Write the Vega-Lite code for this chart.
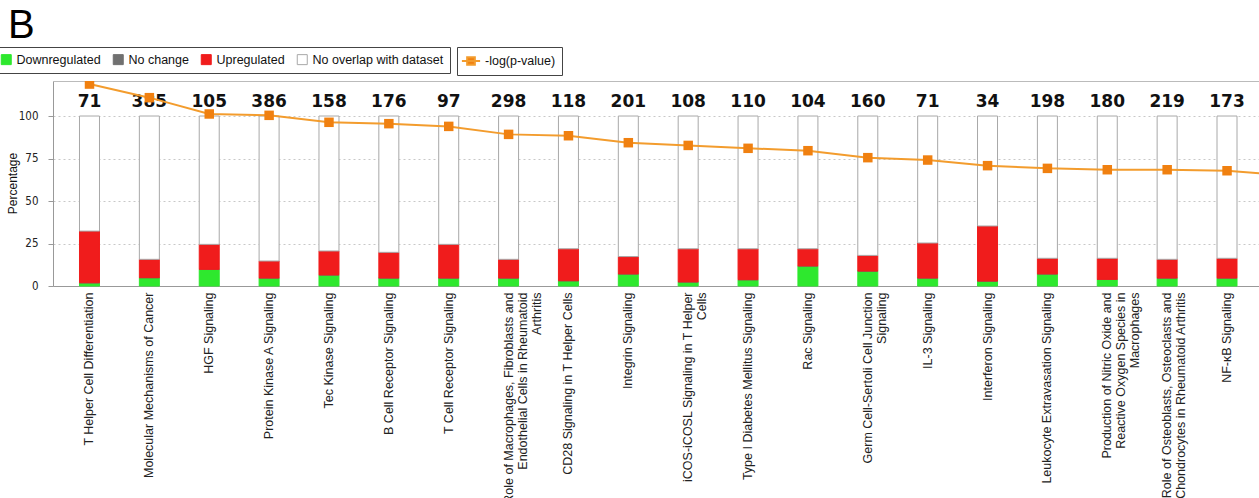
{
  "$schema": "https://vega.github.io/schema/vega-lite/v6.json",
  "autosize": {"type": "none"},
  "width": 1206,
  "height": 205,
  "padding": {"left": 53, "top": 81, "right": 0, "bottom": 212},
  "background": "white",
  "config": {
    "font": "Liberation Sans",
    "view": {"stroke": null}
  },
  "title": {
    "text": "B",
    "anchor": "start",
    "frame": "group",
    "font": "Liberation Sans",
    "fontSize": 40,
    "fontWeight": "normal",
    "color": "#000000",
    "offset": 0,
    "baseline": "alphabetic",
    "dx": -45,
    "dy": 31
  },
  "data": {
    "values": [
      {"rank": 1, "pathway": "T Helper Cell Differentiation", "genes": 71, "Downregulated": 1.9, "No change": 0, "Upregulated": 30.4, "No overlap with dataset": 67.7, "logp": 118.8},
      {"rank": 2, "pathway": "Molecular Mechanisms of Cancer", "genes": 385, "Downregulated": 4.9, "No change": 0, "Upregulated": 10.8, "No overlap with dataset": 84.3, "logp": 110.8},
      {"rank": 3, "pathway": "HGF Signaling", "genes": 105, "Downregulated": 9.8, "No change": 0, "Upregulated": 14.7, "No overlap with dataset": 75.5, "logp": 101.2},
      {"rank": 4, "pathway": "Protein Kinase A Signaling", "genes": 386, "Downregulated": 4.7, "No change": 0, "Upregulated": 10.0, "No overlap with dataset": 85.3, "logp": 100.4},
      {"rank": 5, "pathway": "Tec Kinase Signaling", "genes": 158, "Downregulated": 6.5, "No change": 0, "Upregulated": 14.1, "No overlap with dataset": 79.4, "logp": 96.3},
      {"rank": 6, "pathway": "B Cell Receptor Signaling", "genes": 176, "Downregulated": 4.7, "No change": 0, "Upregulated": 15.1, "No overlap with dataset": 80.2, "logp": 95.5},
      {"rank": 7, "pathway": "T Cell Receptor Signaling", "genes": 97, "Downregulated": 4.7, "No change": 0, "Upregulated": 19.8, "No overlap with dataset": 75.5, "logp": 93.9},
      {"rank": 8, "pathway": "Role of Macrophages, Fibroblasts and\nEndothelial Cells in Rheumatoid\nArthritis", "genes": 298, "Downregulated": 4.7, "No change": 0, "Upregulated": 11.0, "No overlap with dataset": 84.3, "logp": 89.2},
      {"rank": 9, "pathway": "CD28 Signaling in T Helper Cells", "genes": 118, "Downregulated": 3.1, "No change": 0, "Upregulated": 18.8, "No overlap with dataset": 78.1, "logp": 88.4},
      {"rank": 10, "pathway": "Integrin Signaling", "genes": 201, "Downregulated": 7.1, "No change": 0, "Upregulated": 10.2, "No overlap with dataset": 82.7, "logp": 84.3},
      {"rank": 11, "pathway": "iCOS-iCOSL Signaling in T Helper\nCells", "genes": 108, "Downregulated": 2.4, "No change": 0, "Upregulated": 19.5, "No overlap with dataset": 78.1, "logp": 82.7},
      {"rank": 12, "pathway": "Type I Diabetes Mellitus Signaling", "genes": 110, "Downregulated": 3.7, "No change": 0, "Upregulated": 18.2, "No overlap with dataset": 78.1, "logp": 81.0},
      {"rank": 13, "pathway": "Rac Signaling", "genes": 104, "Downregulated": 11.8, "No change": 0, "Upregulated": 10.1, "No overlap with dataset": 78.1, "logp": 79.6},
      {"rank": 14, "pathway": "Germ Cell-Sertoli Cell Junction\nSignaling", "genes": 160, "Downregulated": 8.8, "No change": 0, "Upregulated": 9.2, "No overlap with dataset": 82.0, "logp": 75.5},
      {"rank": 15, "pathway": "IL-3 Signaling", "genes": 71, "Downregulated": 4.7, "No change": 0, "Upregulated": 20.6, "No overlap with dataset": 74.7, "logp": 74.1},
      {"rank": 16, "pathway": "Interferon Signaling", "genes": 34, "Downregulated": 2.9, "No change": 0, "Upregulated": 32.4, "No overlap with dataset": 64.7, "logp": 70.8},
      {"rank": 17, "pathway": "Leukocyte Extravasation Signaling", "genes": 198, "Downregulated": 7.1, "No change": 0, "Upregulated": 9.2, "No overlap with dataset": 83.7, "logp": 69.2},
      {"rank": 18, "pathway": "Production of Nitric Oxide and\nReactive Oxygen Species in\nMacrophages", "genes": 180, "Downregulated": 3.9, "No change": 0, "Upregulated": 12.4, "No overlap with dataset": 83.7, "logp": 68.4},
      {"rank": 19, "pathway": "Role of Osteoblasts, Osteoclasts and\nChondrocytes in Rheumatoid Arthritis", "genes": 219, "Downregulated": 4.7, "No change": 0, "Upregulated": 11.0, "No overlap with dataset": 84.3, "logp": 68.4},
      {"rank": 20, "pathway": "NF-κB Signaling", "genes": 173, "Downregulated": 4.7, "No change": 0, "Upregulated": 11.6, "No overlap with dataset": 83.7, "logp": 67.8},
      {"rank": 21, "logp": 65.0}
    ]
  },
  "layer": [
    {
      "transform": [{"filter": "isValid(datum.pathway)"}],
      "encoding": {
        "x": {
          "field": "pathway",
          "type": "nominal",
          "sort": null,
          "scale": {"range": [0, 1210.5], "paddingInner": 0.666, "paddingOuter": 0.4426},
          "axis": {
            "title": null,
            "labelAngle": -90,
            "ticks": false,
            "grid": false,
            "domainColor": "#999999",
            "labelPadding": 6,
            "labelFont": "Liberation Sans",
            "labelFontSize": 12.5,
            "labelColor": "#222222",
            "labelLimit": 400,
            "labelLineHeight": 14,
            "labelExpr": "split(datum.label, '\\n')"
          }
        }
      },
      "layer": [
        {
          "transform": [
            {"fold": ["Downregulated", "No change", "Upregulated", "No overlap with dataset"], "as": ["status", "percent"]},
            {
              "lookup": "status",
              "from": {
                "data": {
                  "values": [
                    {"status": "Downregulated", "stackpos": 1},
                    {"status": "No change", "stackpos": 2},
                    {"status": "Upregulated", "stackpos": 3},
                    {"status": "No overlap with dataset", "stackpos": 4}
                  ]
                },
                "key": "status",
                "fields": ["stackpos"]
              }
            }
          ],
          "mark": {"type": "bar", "strokeWidth": 1},
          "encoding": {
            "y": {
              "field": "percent",
              "type": "quantitative",
              "stack": "zero",
              "title": "Percentage",
              "scale": {"domain": [0, 120.6], "nice": false},
              "axis": {
                "values": [0, 25, 50, 75, 100],
                "grid": true,
                "gridDash": [2, 3],
                "gridColor": "#c8c8c8",
                "domainColor": "#999999",
                "tickColor": "#999999",
                "tickSize": 5,
                "labelPadding": 10,
                "labelFont": "Liberation Sans Narrow, DejaVu Sans Condensed, Liberation Sans",
                "labelFontSize": 11.5,
                "labelColor": "#222222",
                "titleFont": "Liberation Sans",
                "titleFontSize": 12,
                "titleFontWeight": "normal",
                "titleColor": "#111111",
                "titleX": -41,
                "titleY": 102,
                "titleAngle": -90,
                "titleBaseline": "middle",
                "titleAlign": "center"
              }
            },
            "order": {"field": "stackpos", "type": "quantitative", "sort": "ascending"},
            "fill": {
              "field": "status",
              "type": "nominal",
              "sort": ["Downregulated", "No change", "Upregulated", "No overlap with dataset"],
              "scale": {
                "domain": ["Downregulated", "No change", "Upregulated", "No overlap with dataset"],
                "range": ["#2ee82e", "#707070", "#f01c1c", "#ffffff"]
              },
              "legend": {
                "orient": "none",
                "legendX": -59,
                "legendY": -34,
                "direction": "horizontal",
                "columns": 4,
                "title": null,
                "strokeColor": "#444444",
                "padding": 6,
                "symbolType": "square",
                "symbolSize": 100,
                "symbolStrokeWidth": 1,
                "labelFont": "Liberation Sans",
                "labelFontSize": 12.5,
                "labelColor": "#111111",
                "labelOffset": 4,
                "columnPadding": 10
              }
            },
            "stroke": {
              "field": "status",
              "type": "nominal",
              "sort": ["Downregulated", "No change", "Upregulated", "No overlap with dataset"],
              "scale": {
                "domain": ["Downregulated", "No change", "Upregulated", "No overlap with dataset"],
                "range": ["#2ee82e", "#707070", "#f01c1c", "#a8a8a8"]
              },
              "legend": {
                "orient": "none",
                "legendX": -59,
                "legendY": -34,
                "direction": "horizontal",
                "columns": 4,
                "title": null,
                "strokeColor": "#444444",
                "padding": 6,
                "symbolType": "square",
                "symbolSize": 100,
                "symbolStrokeWidth": 1,
                "labelFont": "Liberation Sans",
                "labelFontSize": 12.5,
                "labelColor": "#111111",
                "labelOffset": 4,
                "columnPadding": 10
              }
            }
          }
        },
        {
          "mark": {"type": "text", "font": "DejaVu Sans", "fontSize": 17, "fontWeight": "bold", "baseline": "alphabetic", "dy": -9, "color": "#111111"},
          "encoding": {
            "y": {"datum": 100},
            "text": {"field": "genes", "type": "quantitative"}
          }
        }
      ]
    },
    {
      "encoding": {
        "x": {
          "field": "rank",
          "type": "quantitative",
          "scale": {"domain": [0.3903, 20.5339], "nice": false, "zero": false},
          "axis": {"orient": "top", "labels": false, "ticks": false, "grid": false, "title": null, "domainColor": "#bbbbbb"}
        },
        "y": {
          "field": "logp",
          "type": "quantitative",
          "title": "-log(p-value)",
          "scale": {"domain": [0, 120.6], "nice": false},
          "axis": null
        }
      },
      "layer": [
        {
          "mark": {"type": "line", "clip": true, "strokeWidth": 2},
          "encoding": {
            "color": {
              "datum": "-log(p-value)",
              "scale": {"range": ["#f39c2d"]},
              "legend": {
                "orient": "none",
                "legendX": 404,
                "legendY": -34,
                "title": null,
                "strokeColor": "#444444",
                "padding": 6,
                "symbolType": "M-1.3,0H1.3M-0.55,-0.55H0.55V0.55H-0.55Z",
                "symbolSize": 196,
                "symbolStrokeWidth": 2,
                "symbolFillColor": "#f08010",
                "labelFont": "Liberation Sans",
                "labelFontSize": 12.5,
                "labelColor": "#111111",
                "labelOffset": 6
              }
            }
          }
        },
        {
          "mark": {"type": "point", "shape": "square", "filled": true, "size": 90, "opacity": 1, "clip": true, "color": "#f08010"},
          "encoding": {}
        }
      ]
    }
  ],
  "resolve": {"scale": {"x": "independent", "y": "independent"}}
}
